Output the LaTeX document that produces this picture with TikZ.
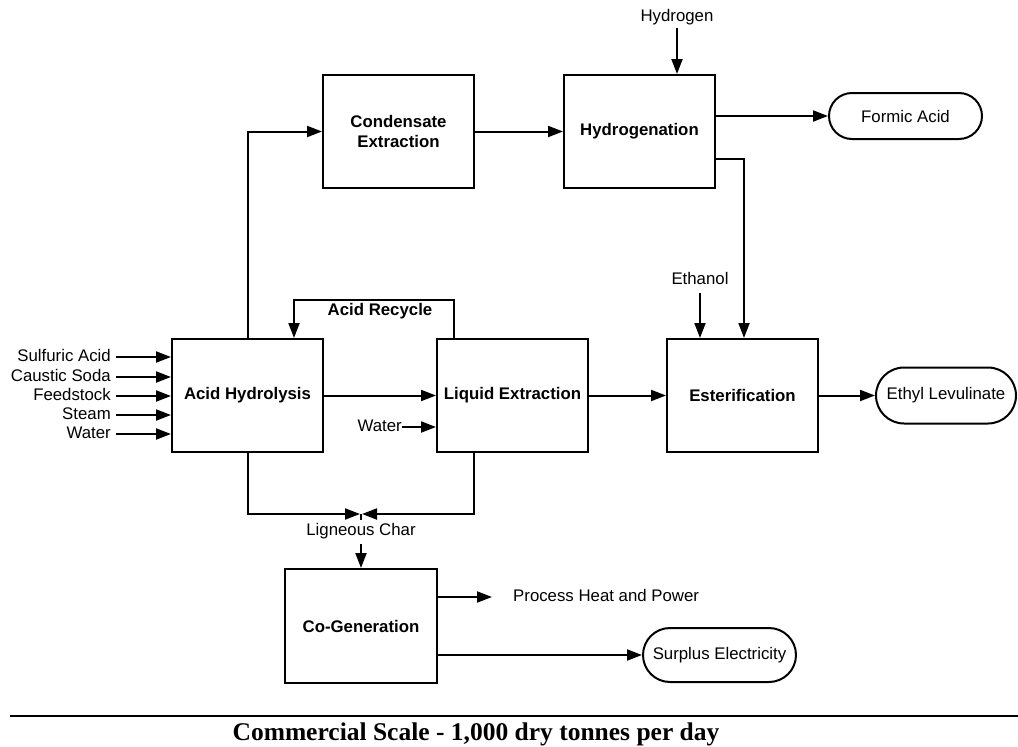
\documentclass[tikz,border=0pt]{standalone}
\usepackage{fontspec}
\setmainfont{Liberation Sans}
\newfontfamily\titlefont{Liberation Serif}
\usetikzlibrary{arrows.meta}
\begin{document}
\begin{tikzpicture}[x=1pt,y=-1pt,
  lbl/.style={font=\fontsize{16.8}{20}\selectfont, inner sep=0pt, text height=12pt, text depth=3pt},
  proc/.style={draw, line width=2pt, minimum width=151pt, minimum height=113pt, align=center, inner sep=2pt,
     font=\fontsize{16.8}{20}\selectfont\bfseries},
  term/.style={draw, line width=2pt, align=center, inner sep=2pt, font=\fontsize{16.8}{20}\selectfont},
  flow/.style={line width=2pt, -{Triangle[length=15pt,width=11pt]}},
  plain/.style={line width=2pt}]
\useasboundingbox (0,0) rectangle (1018,747);
% process boxes
\node[proc] (ah) at (247.5,395.5) {Acid Hydrolysis};
\node[proc] (le) at (512.5,395.5) {Liquid Extraction};
\node[proc] (es) at (742.5,395.5) {Esterification};
\node[proc] (ce) at (398.5,131.5) {Condensate\\Extraction};
\node[proc] (hy) at (639.5,131.5) {Hydrogenation};
\node[proc, minimum width=152pt, minimum height=114pt] (cg) at (361,626) {Co-Generation};
% terminals
\node[term, minimum width=153pt, minimum height=46pt, rounded corners=23pt] (fa) at (905.5,116) {Formic Acid};
\node[term, minimum width=140pt, minimum height=56pt, rounded corners=28pt] (el) at (946,395.5) {Ethyl Levulinate};
\node[term, minimum width=153pt, minimum height=54pt, rounded corners=27pt] (se) at (719.5,655) {Surplus Electricity};
% input labels
\node[lbl, anchor=east] (in1) at (111,357) {Sulfuric Acid};
\node[lbl, anchor=east] (in2) at (111,377) {Caustic Soda};
\node[lbl, anchor=east] (in3) at (111,396) {Feedstock};
\node[lbl, anchor=east] (in4) at (111,415) {Steam};
\node[lbl, anchor=east] (in5) at (111,434) {Water};
\foreach \i in {in1,in2,in3,in4,in5}
  \draw[flow, shorten <=5pt] (\i.east) -- (ah.west |- \i.east);
% other labels
\node[lbl, anchor=east] (w2) at (402,427) {Water};
\node[lbl] (h2) at (677,17) {Hydrogen};
\node[lbl] (et) at (700,280) {Ethanol};
\node[lbl] (lg) at (361,531) {Ligneous Char};
\node[lbl, anchor=west] (ph) at (513,597) {Process Heat and Power};
\node[lbl, font=\fontsize{16.8}{20}\selectfont\bfseries] (ar) at (380,311) {Acid Recycle};
% main flow
\draw[flow] (ah) -- (le);
\draw[flow] (le) -- (es);
\draw[flow] (es) -- (el);
\draw[flow] (w2.east) -- (le.west |- w2.east);
\draw[flow] (ah.north) -- (ah.north |- ce.west) -- (ce.west);
\draw[flow] (ce) -- (hy);
\draw[flow, shorten <=3pt] (h2.south) -- (h2.south |- hy.north);
\draw[flow] (hy.east |- fa.west) -- (fa.west);
\coordinate (c1) at (744,159);
\draw[flow] (hy.east |- c1) -- (c1) -- (c1 |- es.north);
\draw[flow, shorten <=5pt] (et.south) -- (et.south |- es.north);
% acid recycle
\coordinate (r1) at (454,300);
\coordinate (r2) at (294,300);
\draw[flow] (r1 |- le.north) -- (r1) -- (r2) -- (r2 |- ah.north);
% ligneous char
\coordinate (lc) at (361,514);
\coordinate (lb) at (474,514);
\draw[flow] (ah.south) -- (ah.south |- lc) -- ([xshift=-1pt]lc);
\draw[flow] (lb |- le.south) -- (lb) -- ([xshift=1pt]lc);
\draw[line width=1.4pt] (lc) -- ++(0,6);
\draw[flow, shorten <=5pt] (lg.south) -- (lg.south |- cg.north);
% co-generation outputs
\coordinate (pe) at (492,597);
\draw[flow] (cg.east |- pe) -- (pe);
\draw[flow] (cg.east |- se.west) -- (se.west);
% footer
\coordinate (f1) at (10,716);
\coordinate (f2) at (1018,716);
\draw[plain] (f1) -- (f2);
\node[inner sep=0pt, font=\titlefont\bfseries\fontsize{25.5}{30}\selectfont] (tt) at (476,734) {Commercial Scale - 1,000 dry tonnes per day};
\end{tikzpicture}
\end{document}
